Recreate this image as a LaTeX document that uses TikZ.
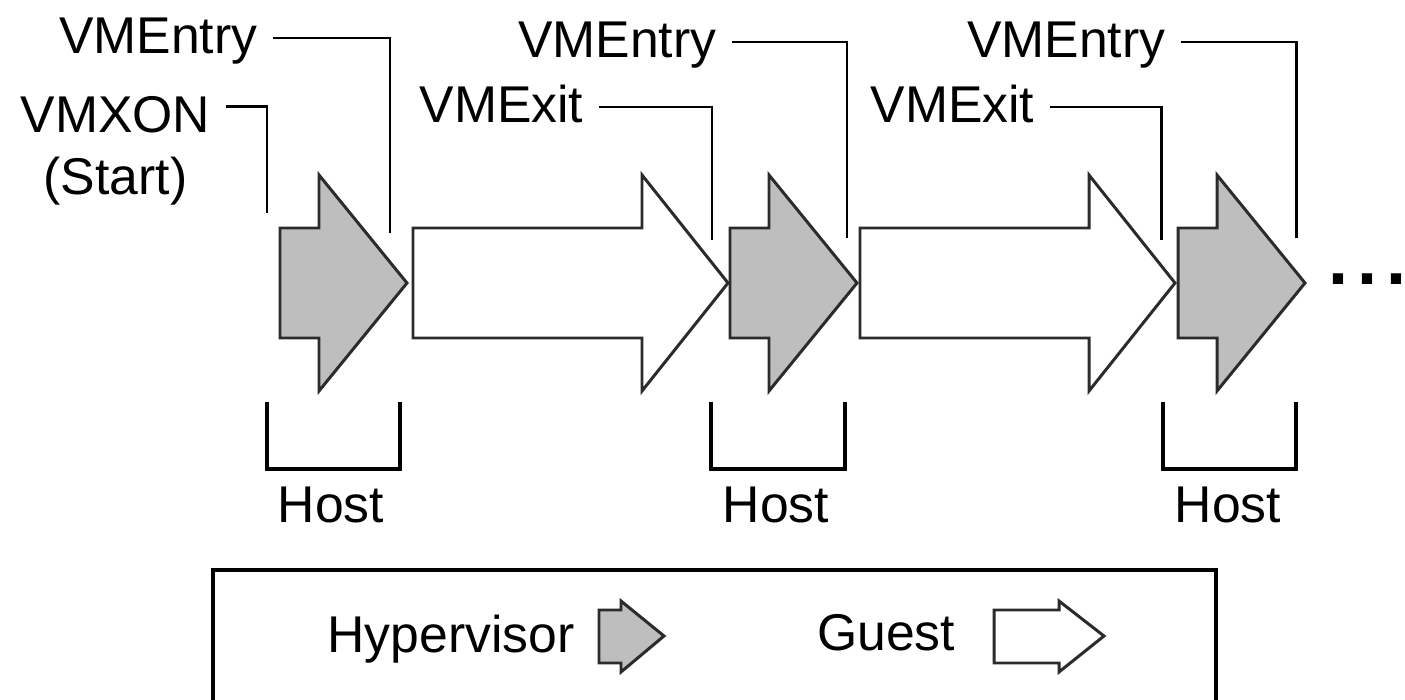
\documentclass[tikz,border=0pt]{standalone}
\usepackage{fontspec}
\setmainfont{Liberation Sans}
\usetikzlibrary{positioning}
\definecolor{hypgray}{HTML}{BEBEBE}
\definecolor{edgegray}{HTML}{2B2B2B}

\begin{document}
\begin{tikzpicture}[x=0.01cm,y=-0.01cm]
		\tikzstyle{vmtext}=[inner xsep=0.15cm, inner ysep=0pt, text height=0.37cm, text depth=0.07cm, font=\fontsize{14.7}{17.6}\selectfont]
		\tikzstyle{leader} = [draw,line width=0.85pt,black]
		\tikzstyle{hyper} = [draw=edgegray,fill=hypgray,line width=0.85pt,line join=miter]
		\tikzstyle{guest} = [draw=edgegray,fill=white,line width=0.85pt,line join=miter]
		\tikzstyle{hostbracket} = [draw,line width=1.1pt,black]
		
		\useasboundingbox (0,0) rectangle (1405,700);
		\clip (0,0) rectangle (1405,700);
		
		% time line
		\foreach \x in {280,730,1178}
			\draw[hyper] (\x,228) -- ++(39,0) -- ++(0,-53) -- ++(88,108) -- ++(-88,108) -- ++(0,-53) -- ++(-39,0) -- cycle;
		\foreach \x in {413,860}
			\draw[guest] (\x,228) -- ++(229,0) -- ++(0,-53) -- ++(86,108) -- ++(-86,108) -- ++(0,-53) -- ++(-229,0) -- cycle;
		\node[anchor=base west,inner sep=0pt] (more) at (1328,284) {\fontsize{20.5}{24}\selectfont\bfseries .\hspace{0.09cm}.\hspace{0.09cm}\rlap{.}};
		
		% events
		\node[vmtext,anchor=east] (xon) at (226,117) {VMXON};
		\node[vmtext,below=0.17cm of xon] (start) {(Start)};
		\node[vmtext,anchor=east] (entryA) at (273,38) {VMEntry};
		\node[vmtext,anchor=east] (exitA) at (599,107) {VMExit};
		\node[vmtext,anchor=east] (entryB) at (732,42) {VMEntry};
		\node[vmtext,anchor=east] (exitB) at (1050,107) {VMExit};
		\node[vmtext,anchor=east] (entryC) at (1181,42) {VMEntry};
		
		\coordinate (xon-end) at (267,213);
		\coordinate (entryA-end) at (390,233);
		\coordinate (exitA-end) at (712,240);
		\coordinate (entryB-end) at (847,238);
		\coordinate (exitB-end) at (1161,240);
		\coordinate (entryC-end) at (1296,238);
		
		\draw[leader] ([yshift=0.1cm]xon.east) -| (xon-end);
		\draw[leader] (entryA.east) -| (entryA-end);
		\draw[leader] (exitA.east) -| (exitA-end);
		\draw[leader] (entryB.east) -| (entryB-end);
		\draw[leader] (exitB.east) -| (exitB-end);
		\draw[leader] (entryC.east) -| (entryC-end);
		
		% host phases
		\draw[hostbracket] (267,402) |- (400,469) -- ++(0,-67);
		\draw[hostbracket] (711,402) |- (845,469) -- ++(0,-67);
		\draw[hostbracket] (1163,402) |- (1296,469) -- ++(0,-67);
		\node[vmtext,anchor=base] (hostA) at (331,522) {Host};
		\node[vmtext,anchor=base] (hostB) at (776,522) {Host};
		\node[vmtext,anchor=base] (hostC) at (1228,522) {Host};
		
		% legend
		\draw[hostbracket] (213,570) rectangle (1216,720);
		\node[vmtext,anchor=base] (hyplabel) at (451,652) {Hypervisor};
		\node[vmtext,anchor=base] (guestlabel) at (886,650) {Guest};
		\draw[hyper] (599,610) -- ++(22,0) -- ++(0,-9) -- ++(43,35) -- ++(-43,36) -- ++(0,-9) -- ++(-22,0) -- cycle;
		\draw[guest] (994,610) -- ++(65,0) -- ++(0,-9) -- ++(45,35) -- ++(-45,36) -- ++(0,-9) -- ++(-65,0) -- cycle;
\end{tikzpicture}
\end{document}
